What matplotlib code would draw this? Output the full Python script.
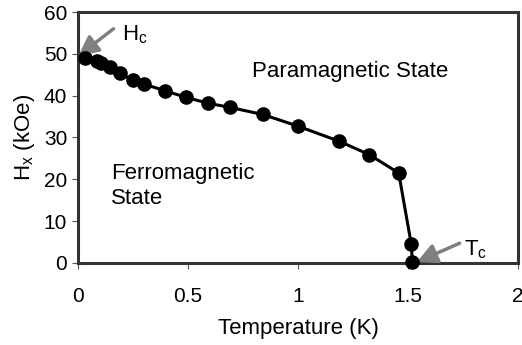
import matplotlib.pyplot as plt

plt.rcParams['font.family'] = ['Liberation Sans', 'DejaVu Sans']

temperature = [0.03, 0.085, 0.105, 0.145, 0.19, 0.247, 0.297, 0.393, 0.49,
               0.59, 0.69, 0.84, 1.0, 1.187, 1.324, 1.458, 1.515, 1.52]
field = [49.0, 48.4, 47.8, 46.8, 45.4, 43.7, 42.8, 41.2, 39.6,
         38.2, 37.2, 35.5, 32.7, 29.1, 25.9, 21.5, 4.5, 0.3]
xticks = [0, 0.5, 1, 1.5, 2]
yticks = [0, 10, 20, 30, 40, 50, 60]

fig = plt.figure(figsize=(5.22, 3.45), dpi=100)
ax = fig.add_axes([0.150, 0.238, 0.842, 0.727])

ax.plot(temperature, field, color='black', lw=2.2, marker='o',
        markersize=9.5, markerfacecolor='black', markeredgecolor='black',
        clip_on=False, zorder=5)

ax.set_xlim(0, 2)
ax.set_ylim(0, 60)
ax.set_xticks(xticks)
ax.set_xticklabels(['0', '0.5', '1', '1.5', '2'])
ax.set_yticks(yticks)

for s in ax.spines.values():
    s.set_linewidth(2.2)
    s.set_color('#333333')
ax.tick_params(direction='out', length=4, width=0.8, color='#555555',
               labelsize=15, pad=4)
ax.tick_params(axis='x', pad=13)

ax.set_xlabel('Temperature (K)', fontsize=16, labelpad=9)
ax.set_ylabel(r'H$_\mathregular{x}$ (kOe)', fontsize=16, labelpad=5)

ax.text(1.237, 45.9, 'Paramagnetic State', fontsize=16, ha='center', va='center')
ax.text(0.15, 18.4, 'Ferromagnetic\nState', fontsize=16, ha='left', va='center',
        linespacing=1.2)

arrow = dict(arrowstyle='-|>,head_length=1.2,head_width=0.6', color='#808080',
             lw=2.5, shrinkA=0, shrinkB=0)
ax.annotate('', xy=(0.0, 49.5), xytext=(0.16, 56.0), arrowprops=arrow)
ax.text(0.2, 54.6, r'H$_\mathregular{c}$', fontsize=16, ha='left', va='center')
ax.annotate('', xy=(1.54, 0.2), xytext=(1.735, 4.7), arrowprops=arrow)
ax.text(1.755, 3.2, r'T$_\mathregular{c}$', fontsize=16, ha='left', va='center')

fig.savefig('out.png', dpi=100)
